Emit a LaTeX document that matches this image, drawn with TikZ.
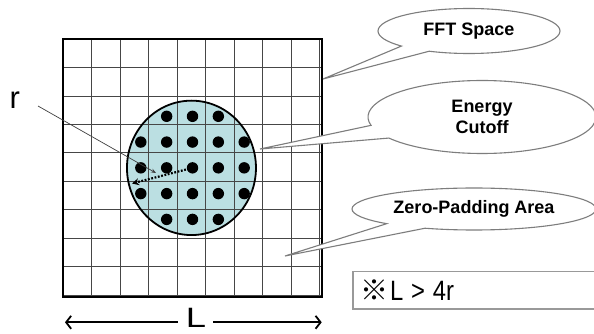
\documentclass[tikz,border=0pt]{standalone}
\usepackage{fontspec}
\setmainfont{Liberation Sans}
\newfontfamily\cjkfont{Noto Sans CJK JP}
\usetikzlibrary{shapes.callouts,shapes.geometric,arrows.meta}
\definecolor{cutfill}{RGB}{187,223,226}
\definecolor{bubbleline}{RGB}{125,125,125}
\definecolor{gridcol}{RGB}{70,70,70}
\begin{document}
\begin{tikzpicture}[x=1pt,y=-1pt,
  gridline/.style={draw=gridcol, line width=0.8pt},
  bubble/.style={ellipse callout, draw=bubbleline, fill=white, line width=1.1pt,
    inner sep=0pt, callout pointer arc=22, align=center,
    font=\bfseries\fontsize{18}{21}\selectfont},
  gpoint/.style={circle, fill=black, inner sep=0pt, minimum size=11.4pt},
  dimarrow/.style={line width=1.8pt, -{Straight Barb[length=5pt,width=13pt,line width=1.8pt]}},
  leader/.style={draw=black!75, line width=0.7pt, -{Stealth[length=5pt,width=4pt]}},
  radius arrow/.style={line width=2.2pt, dash pattern=on 1.8pt off 1.6pt,
    -{Stealth[length=7pt,width=7pt]}},
  notebox/.style={draw=black!40, line width=1.4pt, inner xsep=7pt, inner ysep=0pt,
    minimum height=37.8pt, text width=232pt, align=left}]
\useasboundingbox (0,0) rectangle (594,334);
\clip (0,0) rectangle (594,334);
\fill[white] (0,0) rectangle (594,334);

% FFT grid, in grid units
\begin{scope}[shift={(63.3,39)}, x=25.84pt, y=-25.77pt]
  \coordinate (o) at (5,5);
  \node[ellipse, fill=cutfill, minimum width=129pt, minimum height=134.4pt, inner sep=0pt] (cut) at (4.96,5) {};
  \draw[gridline] (0,0) grid (10,10);
  \node[draw=black, line width=2pt, minimum width=258.4pt, minimum height=257.7pt, inner sep=0pt] (fft) at (5,5) {};
  \draw[line width=1.8pt] (cut.center) ellipse [x radius=64.5pt, y radius=67.2pt];
  \foreach \i in {4,5,6} {
    \node[gpoint] at (\i,3) {};
    \node[gpoint] at (\i,7) {};
  }
  \foreach \j in {4,5,6}
    \foreach \i in {3,...,7}
      \node[gpoint] at (\i,\j) {};
\end{scope}

% radius r
\coordinate (rend) at (132,183.5);
\draw[radius arrow] (o) -- (rend);
\node[font=\fontsize{31}{31}\selectfont, inner sep=0pt, anchor=base west] (rlab) at (9.5,109) {r};
\coordinate (rfoot) at (38,106);
\coordinate (rtip) at (156,173);
\draw[leader] (rfoot) -- (rtip);

% callouts
\coordinate (tipF) at (323,79);
\coordinate (tipE) at (260,149);
\coordinate (tipZ) at (285,256);
\node[bubble, minimum width=182pt, minimum height=45pt, callout absolute pointer={(tipF)}] (fftlab) at (469,31) {FFT Space};
\node[bubble, minimum width=228pt, minimum height=73pt, callout absolute pointer={(tipE)}] (cutlab) at (482,117) {Energy\\Cutoff};
\node[bubble, minimum width=244pt, minimum height=42pt, callout absolute pointer={(tipZ)}] (padlab) at (474,209) {Zero-Padding Area};

% condition box
\node[notebox, anchor=north west, font=\fontsize{28}{28}\selectfont] (cond) at (352.3,270.5)
  {{\cjkfont ※}\hspace{2pt}\scalebox{0.85}[1]{L > 4r}};

% box size L
\node[font=\fontsize{28}{28}\selectfont, inner sep=0pt, anchor=base] (Lsym) at (196,327.5) {\scalebox{1.3}[1]{L}};
\coordinate (Lleft) at (65,322.3);
\coordinate (Lright) at (321.7,322.3);
\draw[dimarrow] (Lsym.west |- Lleft) ++(-8pt,0) -- (Lleft);
\draw[dimarrow] (Lsym.east |- Lright) ++(7pt,0) -- (Lright);
\end{tikzpicture}
\end{document}
